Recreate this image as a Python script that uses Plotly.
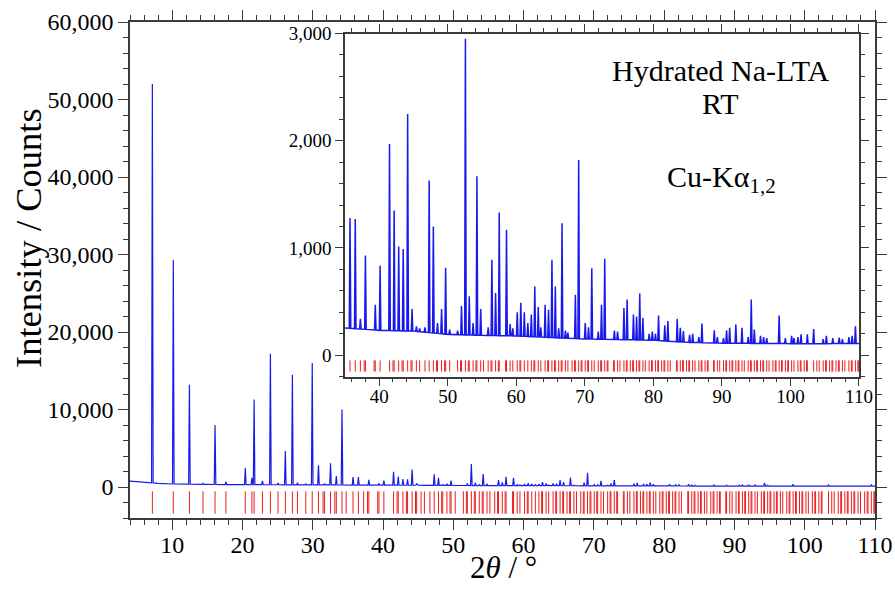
import numpy as np
import plotly.graph_objects as go

# ---------------- data ----------------
# observed peak maxima of the powder pattern (2theta / deg, counts)
peak_two_theta = [7.181, 10.162, 12.454, 14.391, 16.100, 17.648, 20.406, 21.345, 21.658, 22.845,
                  23.976, 25.059, 26.100, 27.104, 27.83, 29.015, 29.928, 30.817, 31.683, 32.529,
                  33.355, 34.164, 35.733, 36.496, 37.245, 37.981, 39.419, 40.121, 41.497, 42.170,
                  42.836, 43.492, 44.142, 44.783, 47.282, 47.891, 49.091, 49.683, 52.001, 52.569,
                  53.133, 54.249, 54.801, 56.434, 56.972, 57.507, 58.566, 60.133, 60.650, 61.165,
                  62.186, 62.693, 63.197, 64.200, 64.698, 65.195, 65.689, 66.671, 68.615, 69.097,
                  70.056, 71.010, 72.430, 72.900, 75.702, 76.165, 77.089, 77.549, 78.009, 78.468,
                  80.753, 81.663, 82.117, 83.476, 83.928, 84.380, 87.084, 88.883, 90.681, 91.130,
                  92.029, 92.929, 94.280, 94.731, 98.350, 100.172, 101.545, 102.464, 103.386, 105.241,
                  109.481]
peak_counts = [52000, 29300, 13200, 450, 8000, 700, 2450, 1200, 11300, 800,
               17200, 500, 4650, 14500, 550, 400, 16000, 2800, 450, 3050,
               1400, 10000, 1280, 1270, 340, 930, 470, 835, 1970, 1350,
               1015, 990, 2250, 430, 1630, 1200, 430, 815, 460, 2950,
               550, 1670, 430, 890, 580, 1330, 1170, 400, 490, 400,
               380, 640, 450, 470, 425, 890, 640, 1230, 565, 1820,
               300, 810, 470, 900, 440, 520, 380, 360, 575, 350,
               370, 280, 320, 340, 255, 225, 295, 232, 232, 255,
               286, 255, 520, 240, 370, 180, 195, 195, 245, 180,
               270]

# weak reflections visible as small bumps in the inset
weak_peak_two_theta = [45.418, 45.888, 46.667, 48.494, 50.270, 51.429, 53.693, 55.893, 59.091, 59.482,
                       61.676, 63.573, 66.181, 67.160, 67.525, 70.534, 71.958, 74.306, 74.772, 79.384,
                       79.841, 80.298, 85.282, 85.733, 86.634, 89.333, 90.231, 93.829, 95.633, 96.085,
                       96.537, 99.260, 100.515, 101.087, 104.776, 106.175, 107.114, 107.584, 108.529, 109.005]
weak_peak_counts = [270, 250, 260, 300, 240, 230, 300, 260, 290, 250,
                    300, 260, 250, 230, 210, 260, 220, 230, 220, 200,
                    220, 200, 190, 200, 170, 170, 160, 170, 180, 170,
                    160, 160, 160, 170, 150, 160, 165, 150, 170, 180]

# background level of the pattern
background_two_theta = [4, 5, 6.5, 8, 10, 15, 20, 25, 30, 35, 40, 45, 50, 55, 60,
                        65, 70, 75, 80, 85, 90, 95, 100, 105, 110]
background_counts = [760, 690, 600, 470, 390, 330, 300, 290, 275, 255, 232, 225, 195, 185, 180,
                     165, 152, 146, 140, 120, 113, 110, 108, 108, 110]

# calculated Bragg reflection positions (red tick marks)
reflection_two_theta = [
    7.181, 10.162, 12.454, 14.391, 16.100, 17.648, 20.406, 21.345, 21.658, 22.845,
    23.976, 25.059, 26.100, 27.104, 27.83, 29.015, 29.928, 30.817, 31.467, 31.683,
    32.529, 33.149, 33.355, 34.164, 34.757, 35.733, 36.496, 37.245, 37.797, 37.981,
    39.24, 39.419, 40.121, 41.497, 42.002, 42.170, 42.836, 43.328, 43.492, 44.142,
    44.623, 44.783, 45.418, 45.888, 46.667, 47.282, 47.891, 48.343, 48.494, 49.091,
    49.535, 49.683, 50.270, 51.429, 51.858, 52.001, 52.569, 52.992, 53.133, 53.693,
    54.110, 54.249, 54.801, 55.21, 55.893, 56.299, 56.434, 56.972, 57.373, 57.507,
    58.435, 58.566, 59.091, 59.482, 60.133, 60.521, 60.650, 61.165, 61.676, 62.186,
    62.566, 62.693, 63.197, 63.573, 64.200, 64.574, 64.698, 65.195, 65.566, 65.689,
    66.181, 66.549, 66.671, 67.160, 67.525, 68.132, 68.494, 68.615, 69.097, 69.457,
    69.577, 70.056, 70.415, 70.534, 71.010, 71.366, 71.958, 72.312, 72.430, 72.900,
    73.253, 73.370, 74.19, 74.306, 74.772, 75.121, 75.702, 76.049, 76.165, 76.627,
    76.974, 77.089, 77.549, 77.894, 78.009, 78.468, 78.812, 79.384, 79.727, 79.841,
    80.298, 80.639, 80.753, 81.208, 81.549, 81.663, 82.117, 82.457, 83.36, 83.476,
    83.928, 84.267, 84.380, 84.831, 85.169, 85.282, 85.733, 86.071, 86.634, 86.972,
    87.084, 87.534, 87.872, 87.984, 88.771, 88.883, 89.333, 89.670, 90.231, 90.569,
    90.681, 91.130, 91.468, 91.580, 92.029, 92.367, 92.479, 92.929, 93.267, 93.829,
    94.167, 94.280, 94.731, 95.069, 95.182, 95.633, 95.972, 96.085, 96.537, 96.877,
    97.443, 97.783, 97.896, 98.350, 98.691, 98.805, 99.260, 99.602, 99.716, 100.172,
    100.515, 101.087, 101.431, 101.545, 102.004, 102.349, 102.464, 103.386, 103.848, 104.196,
    104.776, 105.125, 105.241, 105.708, 106.058, 106.175, 106.644, 106.997, 107.114, 107.584,
    107.938, 108.529, 108.886, 109.005, 109.481, 109.840, 109.959]

# axis tick values
main_x_ticks = [10, 20, 30, 40, 50, 60, 70, 80, 90, 100, 110]
main_y_ticks = [0, 10000, 20000, 30000, 40000, 50000, 60000]
inset_x_ticks = [40, 50, 60, 70, 80, 90, 100, 110]
inset_y_ticks = [0, 1000, 2000, 3000]

# ---------------- build the profile polyline ----------------
HALF_WIDTH = 0.11
pk = np.array(peak_two_theta + weak_peak_two_theta, dtype=float)
pc = np.array(peak_counts + weak_peak_counts, dtype=float)
bx = np.array(background_two_theta, dtype=float)
by = np.array(background_counts, dtype=float)
keep = np.array([np.all(np.abs(pk - b) > 1.5 * HALF_WIDTH) for b in bx])
px = list(bx[keep])
py = list(by[keep])
for p, c in zip(pk, pc):
    for d in (-HALF_WIDTH, HALF_WIDTH):
        px.append(p + d)
        py.append(float(np.interp(p + d, bx, by)))
    px.append(p)
    py.append(c)
order = np.argsort(px, kind="stable")
profile_x = np.array(px)[order]
profile_y = np.array(py)[order]

BLUE = "rgb(25,25,235)"
RED = "rgb(235,30,30)"
AX = "#3a3a3a"
FONT = "Liberation Serif, Times New Roman, serif"

fig = go.Figure()
# main pattern
fig.add_trace(go.Scatter(x=profile_x, y=profile_y, mode="lines",
                         line=dict(color=BLUE, width=1.2), xaxis="x", yaxis="y",
                         hoverinfo="skip", showlegend=False))
fig.add_trace(go.Scatter(x=reflection_two_theta, y=[-2000] * len(reflection_two_theta),
                         mode="markers",
                         marker=dict(symbol="line-ns-open", size=16, color=RED,
                                     line=dict(color=RED, width=1)),
                         xaxis="x", yaxis="y", hoverinfo="skip", showlegend=False))
# inset
fig.add_trace(go.Scatter(x=profile_x, y=profile_y, mode="lines",
                         line=dict(color=BLUE, width=1.5), xaxis="x2", yaxis="y2",
                         hoverinfo="skip", showlegend=False))
fig.add_trace(go.Scatter(x=reflection_two_theta, y=[-100] * len(reflection_two_theta),
                         mode="markers",
                         marker=dict(symbol="line-ns-open", size=8, color=RED,
                                     line=dict(color=RED, width=1)),
                         xaxis="x2", yaxis="y2", hoverinfo="skip", showlegend=False))


def axis(rng, ticks, minor_dtick, ticklen, minorlen, size, domain, anchor, fmt=None, standoff=0):
    d = dict(range=rng, tickmode="array", tickvals=ticks, automargin=False,
             ticks="outside", ticklen=ticklen, tickwidth=1.3, tickcolor=AX,
             showline=True, linecolor=AX, linewidth=1.5, mirror="ticks",
             showgrid=False, zeroline=False, domain=domain, anchor=anchor,
             ticklabelstandoff=standoff,
             tickfont=dict(family=FONT, size=size, color="black"),
             minor=dict(dtick=minor_dtick, tick0=0, ticks="outside", ticklen=minorlen,
                        tickwidth=1.2, tickcolor=AX, showgrid=False))
    if fmt:
        d["tickformat"] = fmt
    return d


fig.update_layout(
    width=895, height=602,
    margin=dict(l=130, r=20, t=22, b=84, autoexpand=False),
    paper_bgcolor="white", plot_bgcolor="white",
    xaxis=axis([4, 110], main_x_ticks, 2, 10, 5, 24, [0, 1], "y", standoff=-6),
    yaxis=axis([-4000, 60000], main_y_ticks, 2000, 10, 5, 24, [0, 1], "x", fmt=",d"),
    xaxis2=axis([35, 110], inset_x_ticks, 2, 8, 4, 19, [0.2886, 0.9785], "y2", standoff=-6),
    yaxis2=axis([-200, 3000], inset_y_ticks, 200, 8, 4, 19, [0.2849, 0.9768], "x2", fmt=",d"),
    showlegend=False,
)

fig.add_annotation(text="Intensity / Counts", xref="paper", yref="paper",
                   x=-0.137, y=0.5645, xanchor="center", yanchor="middle", textangle=-90,
                   showarrow=False, font=dict(family=FONT, size=36.5, color="black"))
fig.add_annotation(text="2<i>θ</i> / °", xref="paper", yref="paper",
                   x=0.502, y=-0.099, xanchor="center", yanchor="middle",
                   showarrow=False, font=dict(family=FONT, size=31, color="black"))
fig.add_annotation(text="Hydrated Na-LTA", xref="paper", yref="paper",
                   x=(721 - 130) / 745, y=(518 - 71) / 496, xanchor="center", yanchor="middle",
                   showarrow=False, font=dict(family=FONT, size=30, color="black"))
fig.add_annotation(text="RT", xref="paper", yref="paper",
                   x=(720 - 130) / 745, y=(518 - 103) / 496, xanchor="center", yanchor="middle",
                   showarrow=False, font=dict(family=FONT, size=30, color="black"))
fig.add_annotation(text="Cu-Kα<sub>1,2</sub>", xref="paper", yref="paper",
                   x=(721 - 130) / 745, y=(518 - 179) / 496, xanchor="center", yanchor="middle",
                   showarrow=False, font=dict(family=FONT, size=30, color="black"))

fig.write_html("out.html", config={"displayModeBar": False},
               post_script="document.body.style.margin='0px';")
